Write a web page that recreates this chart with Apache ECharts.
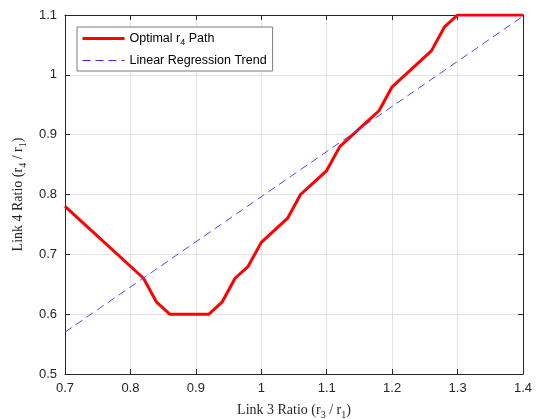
<!DOCTYPE html>
<html>
<head>
<meta charset="utf-8">
<script src="https://cdn.jsdelivr.net/npm/echarts@6/dist/echarts.min.js"></script>
<style>html,body{margin:0;padding:0;background:#fff}#c{width:536px;height:419px}</style>
</head>
<body>
<div id="c"></div>
<script>
// Data
const x3Ratio = [0.70, 0.82, 0.84, 0.86, 0.88, 0.90, 0.92, 0.94, 0.96, 0.98, 1.00, 1.02, 1.04, 1.06, 1.08, 1.10, 1.12, 1.14, 1.16, 1.18, 1.20, 1.22, 1.24, 1.26, 1.28, 1.30, 1.32, 1.34, 1.36, 1.38, 1.40];
const r4Path  = [0.78, 0.66, 0.62, 0.60, 0.60, 0.60, 0.60, 0.62, 0.66, 0.68, 0.72, 0.74, 0.76, 0.80, 0.82, 0.84, 0.88, 0.90, 0.92, 0.94, 0.98, 1.00, 1.02, 1.04, 1.08, 1.10, 1.10, 1.10, 1.10, 1.10, 1.10];
const trendX = [0.70, 1.40];
const trendY = [0.57, 1.098];
const xTicks = [0.7, 0.8, 0.9, 1.0, 1.1, 1.2, 1.3, 1.4];
const yTicks = [0.5, 0.6, 0.7, 0.8, 0.9, 1.0, 1.1];

const pathName = 'Optimal r4 Path';
const trendName = 'Linear Regression Trend';

const chart = echarts.init(document.getElementById('c'), null, {renderer: 'canvas'});
const axisCol = '#262626';
const tickFont = {fontFamily: 'Liberation Sans', fontSize: 13, color: axisCol};
const serif = 'Liberation Serif';
const red = '#ff0000';
const blue = '#4a4aff';
const dash = [8, 5];

function baseX(extra) {
  return Object.assign({
    type: 'value', min: 0.7, max: 1.4, interval: 0.1,
    axisLine: {show: true, lineStyle: {color: axisCol, width: 1}},
    axisTick: {show: true, inside: true, length: 5, lineStyle: {color: axisCol}},
    splitLine: {show: false}
  }, extra);
}
function baseY(extra) {
  return Object.assign({
    type: 'value', min: 0.5, max: 1.1, interval: 0.1,
    axisLine: {show: true, lineStyle: {color: axisCol, width: 1}},
    axisTick: {show: true, inside: true, length: 5, lineStyle: {color: axisCol}},
    splitLine: {show: false}
  }, extra);
}

const option = {
  animation: false,
  backgroundColor: '#fff',
  grid: {left: 65, right: 13, top: 15, bottom: 45, containLabel: false, outerBoundsMode: 'none'},
  xAxis: [
    baseX({
      position: 'bottom',
      splitLine: {show: true, lineStyle: {color: '#e3e3e3', width: 1}},
      axisLabel: Object.assign({margin: 8, formatter: v => String(+v.toFixed(1))}, tickFont),
      name: 'Link 3 Ratio (r{s|3} / r{s|1})',
      nameLocation: 'middle', nameGap: 27,
      nameTextStyle: {fontFamily: serif, fontSize: 14, color: axisCol,
        rich: {s: {fontFamily: serif, fontSize: 10, color: axisCol, padding: [9, 0, 0, 0]}}}
    }),
    baseX({position: 'top', axisLabel: {show: false}})
  ],
  yAxis: [
    baseY({
      position: 'left',
      splitLine: {show: true, lineStyle: {color: '#e3e3e3', width: 1}},
      axisLabel: Object.assign({margin: 8, formatter: v => String(+v.toFixed(1))}, tickFont),
      name: 'Link 4 Ratio (r{s|4} / r{s|1})',
      nameLocation: 'middle', nameGap: 34, nameRotate: 90,
      nameTextStyle: {fontFamily: serif, fontSize: 14, color: axisCol,
        rich: {s: {fontFamily: serif, fontSize: 10, color: axisCol, padding: [9, 0, 0, 0]}}}
    }),
    baseY({position: 'right', axisLabel: {show: false}})
  ],
  legend: {
    left: 77, top: 27, orient: 'vertical',
    backgroundColor: '#fff', borderColor: '#7a7a7a', borderWidth: 1,
    padding: [5, 6, 4, 4], itemGap: 7, itemWidth: 42, itemHeight: 13,
    itemStyle: {opacity: 0},
    data: [
      {name: pathName, lineStyle: {color: red, width: 3, type: 'solid'}},
      {name: trendName, lineStyle: {color: '#2a2aff', width: 1, type: dash}}
    ],
    formatter: n => n === pathName ? 'Optimal r{s|4} Path' : n,
    textStyle: {fontFamily: 'Liberation Sans', fontSize: 12.5, color: '#000',
      rich: {s: {fontFamily: 'Liberation Sans', fontSize: 9, color: '#000', padding: [8, 0, 0, 0]}}}
  },
  series: [
    {
      name: pathName, type: 'line', xAxisIndex: 0, yAxisIndex: 0,
      data: x3Ratio.map((x, i) => [x, r4Path[i]]),
      symbol: 'none', lineStyle: {color: red, width: 3}, itemStyle: {color: red}
    },
    {
      name: trendName, type: 'line', xAxisIndex: 0, yAxisIndex: 0,
      data: trendX.map((x, i) => [x, trendY[i]]),
      symbol: 'none', lineStyle: {color: blue, width: 1, type: dash}, itemStyle: {color: blue}
    }
  ]
};
chart.setOption(option);
</script>
</body>
</html>
